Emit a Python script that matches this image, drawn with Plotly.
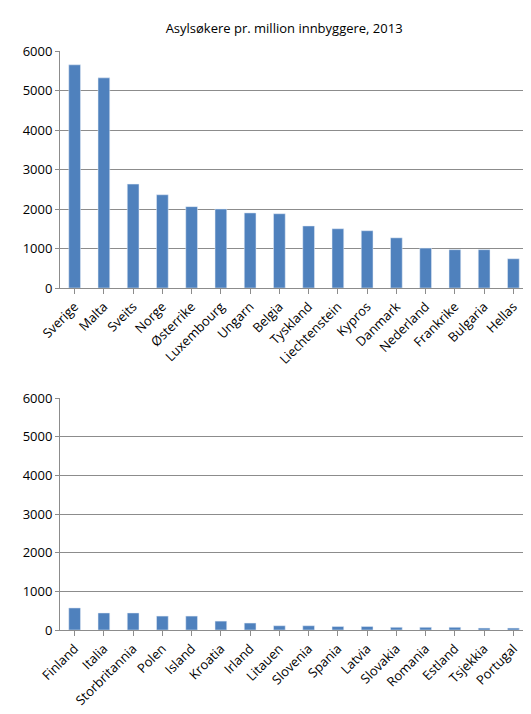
import plotly.graph_objects as go
from plotly.subplots import make_subplots

land_1 = ["Sverige", "Malta", "Sveits", "Norge", "Østerrike", "Luxembourg", "Ungarn", "Belgia",
          "Tyskland", "Liechtenstein", "Kypros", "Danmark", "Nederland", "Frankrike", "Bulgaria", "Hellas"]
verdi_1 = [5650, 5320, 2630, 2360, 2060, 2000, 1900, 1880, 1570, 1500, 1450, 1270, 1010, 970, 970, 740]

land_2 = ["Finland", "Italia", "Storbritannia", "Polen", "Island", "Kroatia", "Irland", "Litauen",
          "Slovenia", "Spania", "Latvia", "Slovakia", "Romania", "Estland", "Tsjekkia", "Portugal"]
verdi_2 = [570, 440, 440, 360, 360, 230, 180, 110, 110, 90, 90, 70, 70, 70, 50, 50]

farge = "#4f81bd"

fig = make_subplots(rows=2, cols=1)
fig.add_trace(go.Bar(x=land_1, y=verdi_1, marker_color=farge, width=0.4), row=1, col=1)
fig.add_trace(go.Bar(x=land_2, y=verdi_2, marker_color=farge, width=0.4), row=2, col=1)

for r in (1, 2):
    fig.update_yaxes(range=[0, 6000], dtick=1000, gridcolor="#8c8c8c", gridwidth=1,
                     showline=True, linecolor="#8c8c8c", ticks="outside", ticklen=4,
                     tickcolor="#8c8c8c", zeroline=False, automargin=False, row=r, col=1)
    fig.update_xaxes(tickangle=-45, showline=True, linecolor="#8c8c8c", ticks="outside",
                     tickcolor="#8c8c8c", ticklen=5, automargin=False, row=r, col=1)

fig.update_layout(
    width=531, height=714,
    title=dict(text="Asylsøkere pr. million innbyggere, 2013", x=0.52, y=0.978,
               font=dict(size=13, color="black")),
    font=dict(family="Open Sans", size=13, color="black"),
    showlegend=False,
    plot_bgcolor="white", paper_bgcolor="white",
    margin=dict(l=52, r=11, t=43, b=92, autoexpand=False),
    bargap=0.6,
)
# plot area 43..622 px (579 px): top 43..280, bottom 390..622
fig.update_layout(yaxis_domain=[1 - 237 / 579, 1.0], yaxis2_domain=[0.0, 232 / 579])

fig.write_html("out.html")
